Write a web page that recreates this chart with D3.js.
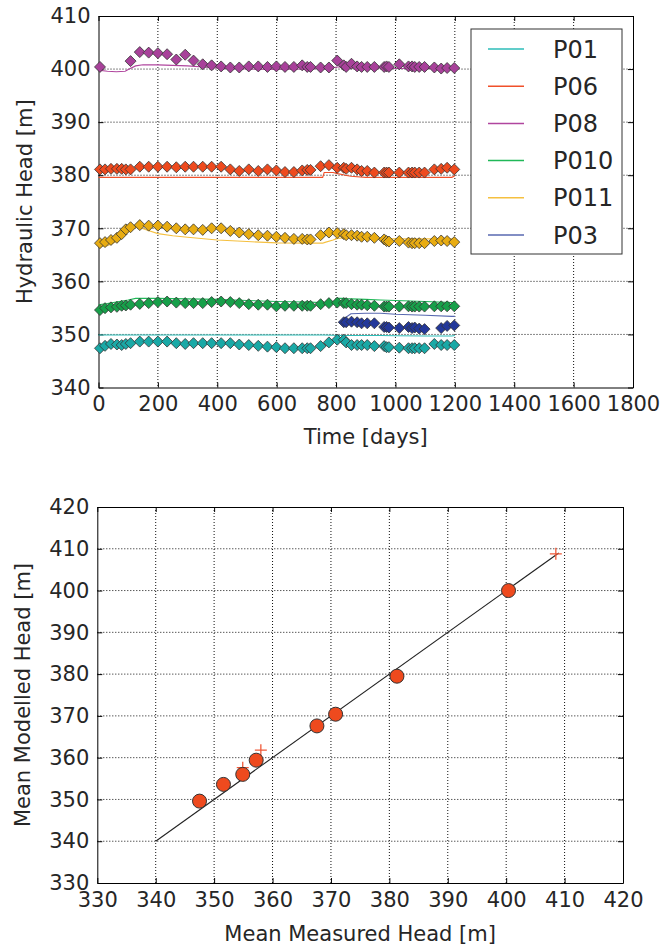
<!DOCTYPE html>
<html>
<head>
<meta charset="utf-8">
<script src="https://cdn.jsdelivr.net/npm/d3@7"></script>
<style>
  body { margin: 0; background: #fff; }
  text { font-family: "DejaVu Sans", sans-serif; fill: #262626; }
</style>
</head>
<body>
<svg id="chart" width="662" height="949"></svg>
<script>
// measurement days (shared by all piezometers)
const days = [5, 22, 42, 62, 78, 92, 108, 139, 169, 200, 231, 262, 292, 320, 351, 381, 413, 444, 474, 506, 538, 569, 599, 628, 658, 686, 703, 714, 748, 776, 804, 826, 834, 852, 871, 886, 905, 929, 962, 970, 978, 1013, 1044, 1056, 1065, 1080, 1098, 1131, 1154, 1174, 1198];

// observed heads [m]
const p01 = [347.4, 347.85, 348.2, 348.1, 348.0, 348.2, 348.35, 348.65, 348.65, 348.65, 348.65, 348.35, 348.2, 348.35, 348.35, 348.35, 348.35, 348.35, 348.1, 348.0, 347.85, 347.7, 347.6, 347.4, 347.4, 347.4, 347.4, 347.4, 347.8, 348.5, 349.0, 349.0, 348.5, 348.0, 348.0, 348.0, 348.0, 347.8, 347.8, 347.6, 347.6, 347.5, 347.4, 347.4, 347.4, 347.4, 347.4, 348.2, 348.0, 348.0, 348.0];
const p06 = [381.1, 381.1, 381.2, 381.2, 381.2, 381.1, 381.1, 381.6, 381.6, 381.6, 381.6, 381.5, 381.6, 381.6, 381.6, 381.6, 381.6, 381.1, 380.8, 381.1, 380.8, 381.1, 380.9, 380.6, 380.6, 380.9, 381.0, 381.0, 381.7, 381.9, 381.4, 381.4, 381.2, 381.4, 381.1, 380.8, 380.8, 380.5, 380.5, 380.5, 380.5, 380.5, 380.5, 380.5, 380.5, 380.5, 380.5, 381.1, 381.2, 381.4, 381.1];
const p08 = [400.4, null, null, null, null, null, 401.5, 403.2, 403.1, 403.0, 402.8, 401.8, 402.7, 401.6, 400.9, 400.7, 400.5, 400.3, 400.3, 400.5, 400.5, 400.4, 400.5, 400.4, 400.4, 400.7, 400.4, 400.4, 400.3, 400.3, 401.6, 400.7, 400.4, 401.0, 400.5, 400.4, 400.4, 400.4, 400.4, 400.5, 400.4, 400.9, 400.5, 400.5, 400.4, 400.4, 400.4, 400.3, 400.1, 400.2, 400.2];
const p010 = [354.6, 354.95, 355.1, 355.2, 355.4, 355.45, 355.6, 355.75, 355.9, 356.1, 356.2, 356.0, 355.9, 355.9, 355.9, 356.1, 356.2, 356.1, 355.9, 355.7, 355.6, 355.6, 355.3, 355.4, 355.4, 355.4, 355.4, 355.4, 355.7, 355.9, 356.0, 355.9, 355.9, 355.7, 355.6, 355.6, 355.5, 355.4, 355.25, 355.25, 355.25, 355.25, 355.3, 355.25, 355.25, 355.25, 355.25, 355.3, 355.3, 355.3, 355.3];
const p011 = [367.2, 367.4, 367.8, 368.2, 368.9, 369.8, 370.2, 370.6, 370.5, 370.5, 370.3, 370.0, 369.8, 369.8, 369.7, 370.0, 370.0, 369.5, 369.2, 368.9, 368.7, 368.6, 368.4, 368.2, 368.0, 368.0, 367.9, 367.9, 368.7, 369.2, 369.1, 368.9, 368.7, 368.7, 368.6, 368.4, 368.4, 368.2, 367.9, 367.6, 367.5, 367.6, 367.3, 367.2, 367.2, 367.2, 367.2, 367.6, 367.7, 367.6, 367.4];
const p03 = [null, null, null, null, null, null, null, null, null, null, null, null, null, null, null, null, null, null, null, null, null, null, null, null, null, null, null, null, null, null, null, 352.3, 352.3, 352.4, 352.3, 352.1, 352.1, 352.1, 351.4, 351.4, 351.3, 351.2, 351.4, 351.2, 351.3, 351.1, 351.0, null, 351.2, 351.6, 351.7];

// modelled heads [m]
const modelDays = [0, 30, 60, 90, 100, 125, 150, 200, 250, 300, 400, 500, 600, 700, 755, 760, 790, 805, 825, 830, 850, 900, 950, 1000, 1100, 1190, 1200];
const m01 = [349.9, 349.9, 349.9, 349.9, 349.9, 349.9, 349.9, 349.9, 349.9, 349.9, 349.9, 349.9, 349.9, 349.9, 349.9, 349.9, 349.85, 349.8, 349.8, 349.8, 349.8, 349.8, 349.8, 349.75, 349.7, 349.7, 349.8];
const m06 = [379.6, 379.6, 379.6, 379.6, 379.6, 379.6, 379.6, 379.6, 379.6, 379.6, 379.6, 379.6, 379.6, 379.6, 379.6, 380.5, 380.5, 380.3, 380.1, 380.0, 379.8, 379.6, 379.6, 379.6, 379.6, 379.6, 379.9];
const m08 = [399.8, 399.6, 399.5, 399.6, 399.9, 400.6, 400.8, 400.8, 400.7, 400.6, 400.2, 400.0, 399.95, 400.0, 400.1, 400.1, 400.3, 400.4, 400.4, 400.4, 400.3, 400.2, 400.2, 400.1, 400.1, 400.1, 400.2];
const m010 = [355.6, 355.8, 356.1, 356.4, 356.5, 356.8, 356.8, 356.8, 356.75, 356.7, 356.6, 356.4, 356.2, 356.1, 356.0, 356.0, 356.0, 356.8, 356.8, 356.75, 356.7, 356.6, 356.5, 356.4, 356.2, 356.0, 356.0];
const m011 = [366.6, 366.7, 367.5, 368.8, 369.3, 370.3, 369.9, 369.0, 368.6, 368.3, 367.8, 367.5, 367.25, 367.2, 367.2, 367.3, 367.8, 368.1, 368.2, 368.2, 368.2, 368.1, 368.0, 368.0, 368.0, 368.0, 368.0];
const m03 = [null, null, null, null, null, null, null, null, null, null, null, null, null, null, null, null, null, null, null, 353.1, 353.9, 354.0, 354.0, 353.8, 353.6, 353.4, 353.4];

const names = ['P01', 'P06', 'P08', 'P010', 'P011', 'P03'];
const markerColors = ['#1aa9a6', '#ee4a1e', '#a8419a', '#17a04a', '#e8ac12', '#23389a'];
const lineColors = ['#2dbdb8', '#f0502a', '#b0469e', '#20b858', '#f5c040', '#5868b0'];

// scatter panel: mean measured vs mean modelled
const meanMeasured = [347.5, 351.6, 354.9, 357.2, 367.6, 370.8, 381.3, 400.4];
const meanModelled = [349.6, 353.6, 356.0, 359.4, 367.6, 370.4, 379.5, 400.0];
const crossMeasured = [354.9, 358.0, 408.5];
const crossModelled = [357.6, 361.8, 408.8];
const oneToOne = [340, 409];

const timeTicks = d3.range(0, 1801, 200);
const headTicks = d3.range(340, 411, 10);
const scatterTicks = d3.range(330, 421, 10);

const svg = d3.select('#chart');
const fontSize = 21;
const fmt = d3.format('d');

function panel(x, y, xTicks, yTicks) {
  const g = svg.append('g');
  const [x0, x1] = x.range();
  const [y0, y1] = y.range();

  // dotted grid
  g.append('g').selectAll('line').data(xTicks.slice(1, -1)).join('line')
    .attr('x1', d => x(d)).attr('x2', d => x(d)).attr('y1', y1).attr('y2', y0)
    .attr('stroke', '#111').attr('stroke-dasharray', '1,2').attr('stroke-width', 1);
  g.append('g').selectAll('line').data(yTicks.slice(1, -1)).join('line')
    .attr('y1', d => y(d)).attr('y2', d => y(d)).attr('x1', x0).attr('x2', x1)
    .attr('stroke', '#111').attr('stroke-dasharray', '1,2').attr('stroke-width', 1);

  const style = a => {
    a.select('.domain').attr('stroke', '#000');
    a.selectAll('.tick line').attr('stroke', '#000');
    a.selectAll('text').attr('font-size', fontSize).attr('fill', '#262626')
      .attr('font-family', '"DejaVu Sans", sans-serif');
  };
  g.append('g').attr('transform', `translate(0,${y0})`)
    .call(d3.axisBottom(x).tickValues(xTicks).tickFormat(fmt).tickSizeInner(-5).tickSizeOuter(0).tickPadding(9))
    .call(style);
  g.append('g').attr('transform', `translate(0,${y1})`)
    .call(d3.axisTop(x).tickValues(xTicks).tickSizeInner(-5).tickSizeOuter(0).tickFormat(''))
    .call(style);
  g.append('g').attr('transform', `translate(${x0},0)`)
    .call(d3.axisLeft(y).tickValues(yTicks).tickFormat(fmt).tickSizeInner(-5).tickSizeOuter(0).tickPadding(8))
    .call(style);
  g.append('g').attr('transform', `translate(${x1},0)`)
    .call(d3.axisRight(y).tickValues(yTicks).tickSizeInner(-5).tickSizeOuter(0).tickFormat(''))
    .call(style);
  return g;
}

// ---------- top: hydrographs ----------
const xT = d3.scaleLinear().domain([0, 1800]).range([98.5, 633]);
const yT = d3.scaleLinear().domain([340, 410]).range([387.5, 16]);
const gTop = panel(xT, yT, timeTicks, headTicks);

const observed = [p01, p06, p08, p010, p011, p03];
const modelled = [m01, m06, m08, m010, m011, m03];
const diamond = 'M0,-5.5L5.5,0L0,5.5L-5.5,0Z';

const line = d3.line().defined(d => d[1] != null).x(d => xT(d[0])).y(d => yT(d[1]));

names.forEach((name, i) => {
  const g = gTop.append('g');
  g.append('path').datum(modelDays.map((t, j) => [t, modelled[i][j]]))
    .attr('d', line).attr('fill', 'none').attr('stroke', lineColors[i]).attr('stroke-width', 1.1);
  g.selectAll('path.obs').data(days.map((t, j) => [t, observed[i][j]]).filter(d => d[1] != null))
    .join('path').attr('class', 'obs')
    .attr('d', diamond)
    .attr('transform', d => `translate(${xT(d[0])},${yT(d[1])})`)
    .attr('fill', markerColors[i]).attr('stroke', '#333').attr('stroke-width', 0.8);
});

// legend
const leg = gTop.append('g').attr('transform', 'translate(471,29)');
leg.append('rect').attr('width', 151).attr('height', 225)
  .attr('fill', '#fff').attr('stroke', '#333').attr('stroke-width', 1);
names.forEach((name, i) => {
  const yy = 20 + i * 37.2;
  leg.append('line').attr('x1', 17).attr('x2', 53).attr('y1', yy).attr('y2', yy)
    .attr('stroke', lineColors[i]).attr('stroke-width', 1.5);
  leg.append('text').attr('x', 82).attr('y', yy).attr('dy', '0.36em')
    .attr('font-size', 24).text(name);
});

svg.append('text').attr('x', (98.5 + 633) / 2).attr('y', 444).attr('text-anchor', 'middle')
  .attr('font-size', fontSize).text('Time [days]');
svg.append('text').attr('transform', `translate(32,${(16 + 387.5) / 2}) rotate(-90)`)
  .attr('text-anchor', 'middle').attr('font-size', fontSize).text('Hydraulic Head [m]');

// ---------- bottom: measured vs modelled ----------
const xS = d3.scaleLinear().domain([330, 420]).range([97.3, 623]);
const yS = d3.scaleLinear().domain([330, 420]).range([883, 507]);
const gBot = panel(xS, yS, scatterTicks, scatterTicks);

gBot.append('line')
  .attr('x1', xS(oneToOne[0])).attr('y1', yS(oneToOne[0]))
  .attr('x2', xS(oneToOne[1])).attr('y2', yS(oneToOne[1]))
  .attr('stroke', '#222').attr('stroke-width', 1.1);

gBot.selectAll('path.cross').data(crossMeasured.map((v, i) => [v, crossModelled[i]]))
  .join('path').attr('class', 'cross')
  .attr('d', d => `M${xS(d[0]) - 6},${yS(d[1])}H${xS(d[0]) + 6}M${xS(d[0])},${yS(d[1]) - 6}V${yS(d[1]) + 6}`)
  .attr('stroke', '#f05a3a').attr('stroke-width', 1.3).attr('fill', 'none');

gBot.selectAll('circle').data(meanMeasured.map((v, i) => [v, meanModelled[i]]))
  .join('circle')
  .attr('cx', d => xS(d[0])).attr('cy', d => yS(d[1])).attr('r', 7)
  .attr('fill', '#ee4a1e').attr('stroke', '#333').attr('stroke-width', 1);

svg.append('text').attr('x', (97.3 + 623) / 2).attr('y', 941).attr('text-anchor', 'middle')
  .attr('font-size', fontSize).text('Mean Measured Head [m]');
svg.append('text').attr('transform', `translate(30,${(507 + 883) / 2}) rotate(-90)`)
  .attr('text-anchor', 'middle').attr('font-size', fontSize).text('Mean Modelled Head [m]');
</script>
</body>
</html>
